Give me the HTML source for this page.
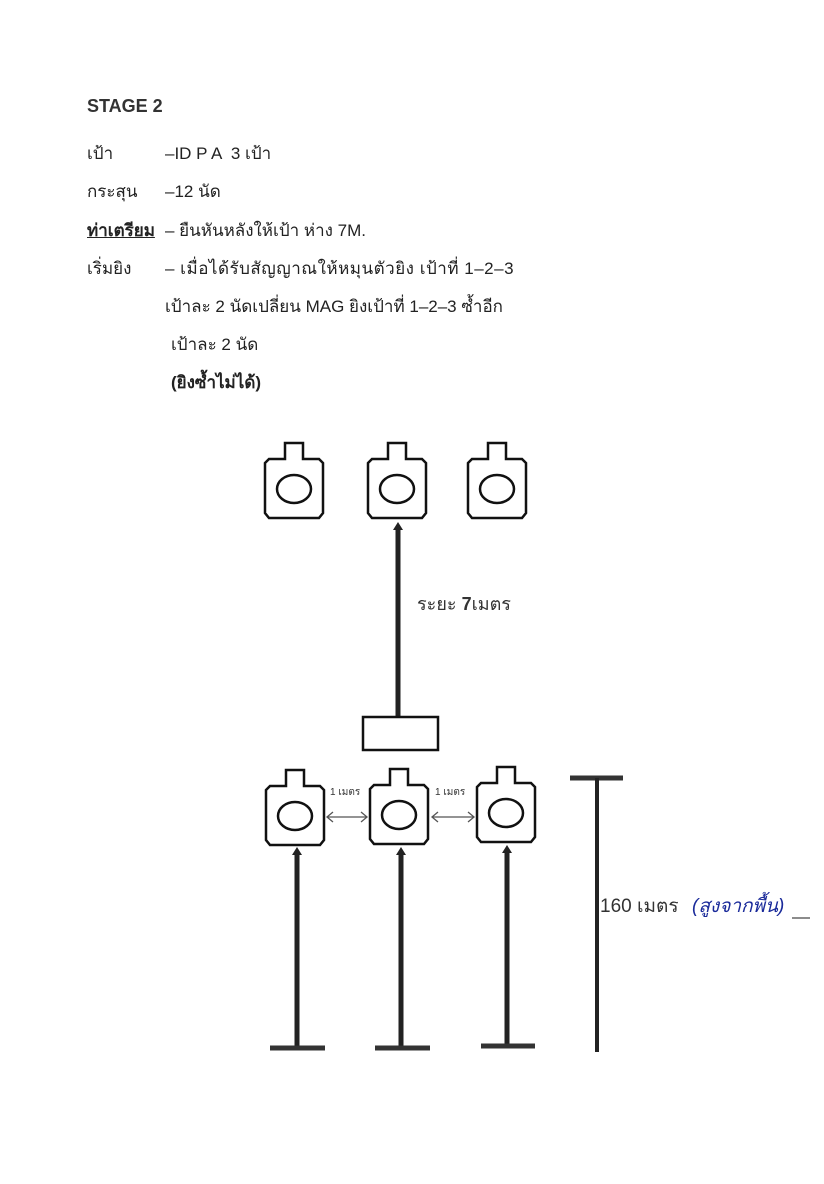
<!DOCTYPE html>
<html><head><meta charset="utf-8"><style>
html,body{margin:0;padding:0;background:#fff;}
body{width:824px;height:1184px;position:relative;overflow:hidden;font-family:"Liberation Sans","Noto Sans CJK SC",sans-serif;color:#222;}
.t{position:absolute;font-size:17px;white-space:nowrap;}
</style></head><body>
<div class="t" style="left:87px;top:96px;font-size:18px;font-weight:bold;color:#333;">STAGE 2</div>
<div class="t" style="left:87px;top:140px;">เป้า</div>
<div class="t" style="left:165px;top:140px;">–ID P A &nbsp;3 เป้า</div>
<div class="t" style="left:87px;top:178px;">กระสุน</div>
<div class="t" style="left:165px;top:178px;">–12 นัด</div>
<div class="t" style="left:87px;top:217px;font-weight:bold;text-decoration:underline;">ท่าเตรียม</div>
<div class="t" style="left:165px;top:217px;">– ยืนหันหลังให้เป้า ห่าง 7M.</div>
<div class="t" style="left:87px;top:255px;">เริ่มยิง</div>
<div class="t" style="left:165px;top:255px;letter-spacing:0.5px;">– เมื่อได้รับสัญญาณให้หมุนตัวยิง เป้าที่ 1–2–3</div>
<div class="t" style="left:165px;top:293px;">เป้าละ 2 นัดเปลี่ยน MAG ยิงเป้าที่ 1–2–3 ซ้ำอีก</div>
<div class="t" style="left:171px;top:331px;">เป้าละ 2 นัด</div>
<div class="t" style="left:171px;top:369px;font-weight:bold;">(ยิงซ้ำไม่ได้)</div>

<svg width="824" height="1184" style="position:absolute;left:0;top:0" xmlns="http://www.w3.org/2000/svg">
<defs>
<g id="tg">
<path d="M0,10 L4,6 L20,6 L20,-10 L38,-10 L38,6 L54,6 L58,10 L58,60 L54,65 L4,65 L0,60 Z" fill="#fff" stroke="#111" stroke-width="2.5"/>
<ellipse cx="29" cy="36" rx="17" ry="14" fill="none" stroke="#111" stroke-width="2.5"/>
</g>
</defs>
<use href="#tg" x="265" y="453"/>
<use href="#tg" x="368" y="453"/>
<use href="#tg" x="468" y="453"/>
<line x1="398" y1="528" x2="398" y2="717" stroke="#222" stroke-width="5"/>
<path d="M393,530 L398,522 L403,530 Z" fill="#222"/>
<rect x="363" y="717" width="75" height="33" fill="#fff" stroke="#111" stroke-width="2.5"/>
<text x="417" y="610" font-size="18" font-family="Liberation Sans,Noto Sans CJK SC,sans-serif" fill="#333">ระยะ <tspan font-weight="bold">7</tspan>เมตร</text>

<use href="#tg" x="266" y="780"/>
<use href="#tg" x="370" y="779"/>
<use href="#tg" x="477" y="777"/>
<g stroke="#555" stroke-width="1.3" fill="none">
<line x1="327" y1="817" x2="367" y2="817"/><path d="M333,812 L327,817 L333,822 M361,812 L367,817 L361,822"/>
<line x1="432" y1="817" x2="474" y2="817"/><path d="M438,812 L432,817 L438,822 M468,812 L474,817 L468,822"/>
</g>
<text x="330" y="795" font-size="10" fill="#333" font-family="Liberation Sans,Noto Sans CJK SC,sans-serif">1 เมตร</text>
<text x="435" y="795" font-size="10" fill="#333" font-family="Liberation Sans,Noto Sans CJK SC,sans-serif">1 เมตร</text>
<g fill="#222">
<path d="M292,855 L297,847 L302,855 Z"/><path d="M396,855 L401,847 L406,855 Z"/><path d="M502,853 L507,845 L512,853 Z"/>
</g>
<g stroke="#222" stroke-width="5">
<line x1="297" y1="853" x2="297" y2="1047"/>
<line x1="401" y1="853" x2="401" y2="1047"/>
<line x1="507" y1="851" x2="507" y2="1045"/>
</g>
<g stroke="#333" stroke-width="5">
<line x1="270" y1="1048" x2="325" y2="1048"/>
<line x1="375" y1="1048" x2="430" y2="1048"/>
<line x1="481" y1="1046" x2="535" y2="1046"/>
<line x1="570" y1="778" x2="623" y2="778"/>
</g>
<line x1="597" y1="778" x2="597" y2="1052" stroke="#222" stroke-width="4"/>
<text x="600" y="912" font-size="19" fill="#333" font-family="Liberation Sans,Noto Sans CJK SC,sans-serif">160 เมตร</text>
<text x="692" y="912" font-size="19" fill="#1a2a9a" font-style="italic" font-family="Liberation Sans,Noto Sans CJK SC,sans-serif">(สูงจากพื้น)</text>
<line x1="792" y1="918" x2="810" y2="918" stroke="#666" stroke-width="1.5"/>
</svg>
</body></html>
